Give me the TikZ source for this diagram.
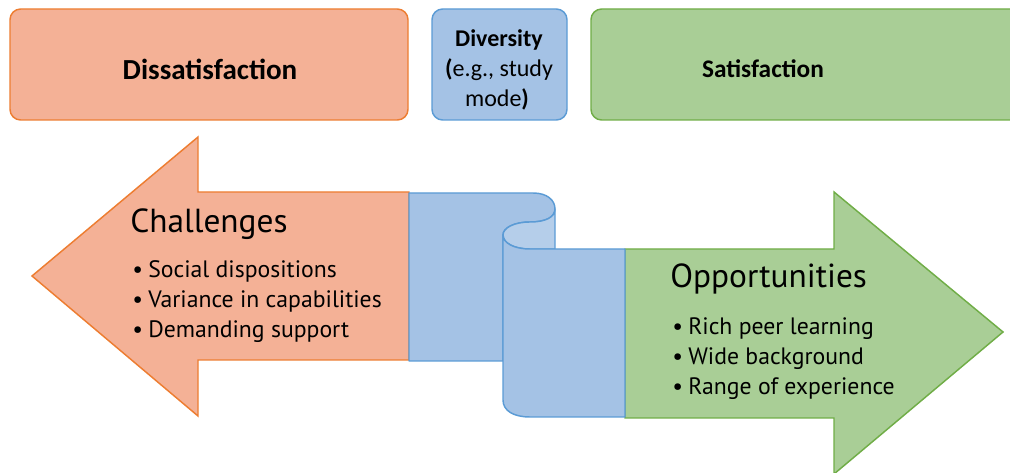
\documentclass[tikz,border=0pt]{standalone}
\usepackage{fontspec}
\setmainfont{Carlito}
\newfontfamily\arrowfont{PT Sans}
\usetikzlibrary{positioning}

\definecolor{orangefill}{HTML}{F4B196}
\definecolor{orangeline}{HTML}{ED7D31}
\definecolor{bluefill}{HTML}{A4C2E5}
\definecolor{bluelight}{HTML}{B5CEEA}
\definecolor{blueline}{HTML}{5B9BD5}
\definecolor{greenfill}{HTML}{A9CE96}
\definecolor{greenline}{HTML}{70AD47}

\tikzset{
  box/.style={line width=1.1pt,rounded corners=8pt},
  ribbon/.style={line width=1.1pt,fill=bluefill,draw=blueline,line join=round},
  heading/.style={anchor=base west,inner sep=0pt,font=\arrowfont\fontsize{25}{29}\selectfont},
  item/.style={anchor=base west,inner sep=0pt,font=\arrowfont\fontsize{17.8}{21}\selectfont},
  toplbl/.style={anchor=base,inner sep=0pt,font=\bfseries\fontsize{19}{23}\selectfont},
  divlbl/.style={anchor=base,inner sep=0pt,font=\fontsize{18}{21}\selectfont}
}

\begin{document}
\begin{tikzpicture}[x=0.75pt,y=-0.75pt]
\useasboundingbox (0,0) rectangle (1010,473);
\clip (0,0) rectangle (1010,473);
% top row
\draw[box,fill=orangefill,draw=orangeline] (10,9) rectangle (408,120);
\draw[box,fill=bluefill,draw=blueline] (432,9) rectangle (567,120);
\draw[box,fill=greenfill,draw=greenline] (591,9) rectangle (1040,120);
\node[toplbl,font=\bfseries\fontsize{21.8}{25}\selectfont] (dissat) at (210,80) {Dissatisfaction};
\node[divlbl] (div1) at (499,47) {\textbf{Diversity}};
\node[divlbl] (div2) at (499,77) {\textbf{(}e.g., study};
\node[divlbl] (div3) at (497,107) {mode\textbf{)}};
\node[toplbl] (sat) at (763,78) {Satisfaction};
% arrows
\draw[line width=1.1pt,fill=orangefill,draw=orangeline,line join=miter]
(409,192) -- (198,192) -- (198,137) -- (32,276) -- (198,416) -- (198,360) -- (409,360) -- cycle;
\draw[line width=1.1pt,fill=greenfill,draw=greenline,line join=miter]
(625,249) -- (834,249) -- (834,192) -- (1003,332) -- (834,474) -- (834,418) -- (625,418) -- cycle;
% ribbon
\draw[ribbon] (409,193) -- (533,193) .. controls (547,193) and (555,200) .. (555,209)
.. controls (555,217) and (546,222) .. (530,222) .. controls (514,222) and (503,228) .. (503,235)
-- (503,361) -- (409,361) -- cycle;
\draw[ribbon,fill=bluelight] (555,209) .. controls (555,217) and (546,222) .. (530,222)
.. controls (514,222) and (503,228) .. (503,235) .. controls (503,243) and (514,249) .. (530,249)
-- (555,249) -- cycle;
\draw[ribbon] (503,235) .. controls (503,243) and (514,249) .. (530,249) -- (625,249)
-- (625,417) -- (530,417) .. controls (514,417) and (503,411) .. (503,400) -- cycle;
% texts
\node[heading] (chal) at (130,233) {Challenges};
\foreach \y/\txt [count=\i] in {278/Social dispositions,308/Variance in capabilities,338/Demanding support}
\node[item] (chal\i) at (132,\y) {\makebox[12pt][l]{\textbullet}\txt};
\node[heading] (opp) at (670,288) {Opportunities};
\foreach \y/\txt [count=\i] in {335/Rich peer learning,365/Wide background,395/Range of experience}
\node[item] (opp\i) at (672,\y) {\makebox[12pt][l]{\textbullet}\txt};
\end{tikzpicture}
\end{document}
